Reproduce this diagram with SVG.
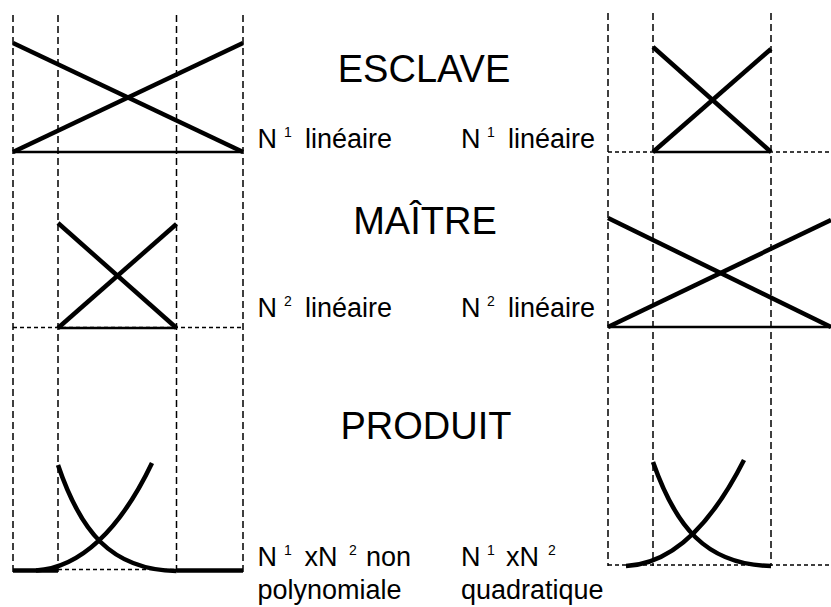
<svg xmlns="http://www.w3.org/2000/svg" width="831" height="607" viewBox="0 0 831 607">
  <style>
    .guide { stroke: #000; stroke-width: 1.5; stroke-dasharray: 7 4; fill: none; }
    .dot { stroke: #000; stroke-width: 1.3; stroke-dasharray: 4 3; fill: none; }
    .fn { stroke: #000; stroke-width: 4.5; fill: none; stroke-linecap: butt; }
    .base { stroke: #000; stroke-width: 2.5; fill: none; }
    .title { font-family: "Liberation Sans", Arial, sans-serif; font-size: 38px; fill: #000; text-anchor: middle; }
    .lbl { font-family: "Liberation Sans", Arial, sans-serif; font-size: 27px; fill: #000; }
    .sup { font-family: "Liberation Sans", Arial, sans-serif; font-size: 14px; fill: #000; }
  </style>
  <rect width="831" height="607" fill="#fff"/>

  <!-- left column: element boundaries -->
  <g id="left-guides">
    <line class="guide" x1="13" y1="15" x2="13" y2="572"/>
    <line class="guide" x1="58" y1="15" x2="58" y2="572"/>
    <line class="guide" x1="176.5" y1="15" x2="176.5" y2="572"/>
    <line class="guide" x1="243" y1="15" x2="243" y2="572"/>
  </g>

  <!-- right column: element boundaries -->
  <g id="right-guides">
    <line class="guide" x1="608" y1="13" x2="608" y2="566"/>
    <line class="guide" x1="653" y1="13" x2="653" y2="566"/>
    <line class="guide" x1="771" y1="13" x2="771" y2="566"/>
  </g>

  <!-- slave shape functions -->
  <g id="left-esclave">
    <line class="base" x1="13" y1="152" x2="243" y2="152"/>
    <line class="fn" x1="13" y1="43" x2="243" y2="152"/>
    <line class="fn" x1="13" y1="152" x2="243" y2="43"/>
  </g>
  <g id="right-esclave">
    <line class="dot" x1="608" y1="152" x2="831" y2="152"/>
    <line class="base" x1="653" y1="152" x2="771" y2="152"/>
    <line class="fn" x1="653" y1="47" x2="771" y2="152"/>
    <line class="fn" x1="653" y1="152" x2="771" y2="49"/>
  </g>

  <!-- master shape functions -->
  <g id="left-maitre">
    <line class="dot" x1="13" y1="327.5" x2="243" y2="327.5"/>
    <line class="base" x1="58" y1="328" x2="176.5" y2="328"/>
    <line class="fn" x1="58" y1="223" x2="176.5" y2="328"/>
    <line class="fn" x1="58" y1="328" x2="176.5" y2="224"/>
  </g>
  <g id="right-maitre">
    <line class="base" x1="608" y1="327" x2="831" y2="327"/>
    <line class="fn" x1="608" y1="218" x2="831" y2="327"/>
    <line class="fn" x1="608" y1="327" x2="831" y2="220"/>
  </g>

  <!-- products -->
  <g id="left-produit">
    <line class="dot" x1="58" y1="569.5" x2="176.5" y2="569.5"/>
    <line class="fn" x1="13" y1="570.5" x2="58" y2="570.5"/>
    <line class="fn" x1="176.5" y1="570.5" x2="243" y2="570.5"/>
    <path class="fn" d="M58,465 C80,530 110,570 176.5,571"/>
    <path class="fn" d="M36,570.5 C80,568 120,530 152,463"/>
  </g>
  <g id="right-produit">
    <line class="dot" x1="608" y1="565" x2="831" y2="565"/>
    <path class="fn" d="M653,462 C675,525 705,565 771,566"/>
    <path class="fn" d="M626,566 C670,564 710,527 744,460"/>
  </g>

  <!-- titles -->
  <g id="titles">
    <text class="title" x="424" y="82">ESCLAVE</text>
    <text class="title" x="425" y="234">MAÎTRE</text>
    <text class="title" x="426" y="439">PRODUIT</text>
  </g>

  <!-- labels -->
  <g id="labels">
    <text class="lbl" x="257.5" y="148">N</text>
    <text class="sup" x="284" y="137">1</text>
    <text class="lbl" x="305" y="148">linéaire</text>

    <text class="lbl" x="461" y="148">N</text>
    <text class="sup" x="487" y="137">1</text>
    <text class="lbl" x="508" y="148">linéaire</text>

    <text class="lbl" x="257.5" y="317">N</text>
    <text class="sup" x="284" y="306">2</text>
    <text class="lbl" x="305" y="317">linéaire</text>

    <text class="lbl" x="461" y="317">N</text>
    <text class="sup" x="487" y="306">2</text>
    <text class="lbl" x="508" y="317">linéaire</text>

    <text class="lbl" x="257.5" y="566">N</text>
    <text class="sup" x="284" y="555">1</text>
    <text class="lbl" x="304.5" y="566">xN</text>
    <text class="sup" x="349" y="555">2</text>
    <text class="lbl" x="366" y="566">non</text>
    <text class="lbl" x="257.5" y="599">polynomiale</text>

    <text class="lbl" x="461" y="566">N</text>
    <text class="sup" x="487" y="555">1</text>
    <text class="lbl" x="506" y="566">xN</text>
    <text class="sup" x="548" y="555">2</text>
    <text class="lbl" x="461" y="599">quadratique</text>
  </g>
</svg>
